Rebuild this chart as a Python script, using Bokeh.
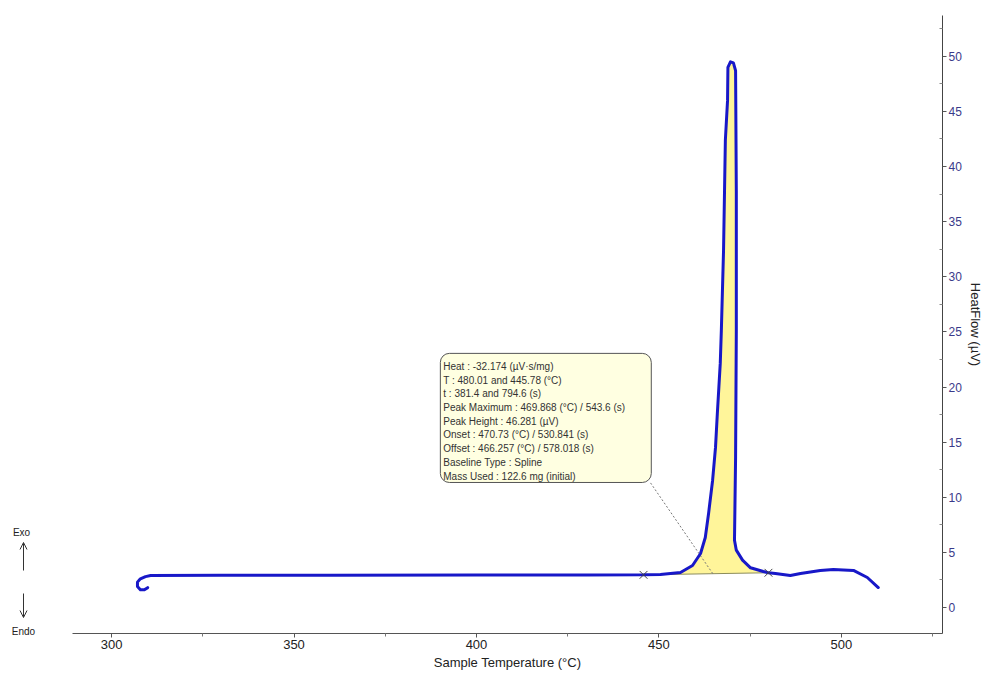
from bokeh.plotting import figure
from bokeh.layouts import row
from bokeh.models import Range1d, Arrow, OpenHead, FixedTicker
from bokeh.core.properties import value
from bokeh.embed import file_html
from bokeh.resources import INLINE

# ---- data ----
temp = [309.9, 309.0, 307.9, 307.1, 307.1, 307.9, 309.3, 310.7, 330.0, 360.0, 400.0, 430.0,
        445.78, 450.4, 455.9, 459.2, 461.4, 462.7, 463.6, 464.7, 465.5, 466.0, 466.8, 467.1,
        467.7, 468.2, 468.8, 468.9, 469.6, 470.4, 471.0, 471.2, 471.2, 471.0, 470.7, 471.2,
        472.9, 475.1, 478.6, 480.01, 481.9, 486.0, 488.8, 494.2, 497.8, 503.3, 507.1, 510.1]
heat = [1.8, 1.6, 1.6, 1.9, 2.3, 2.6, 2.8, 2.9, 2.92, 2.93, 2.94, 2.95,
        2.96, 3.0, 3.18, 3.81, 4.9, 6.35, 8.53, 11.52, 14.52, 17.6, 22.14, 25.14,
        32.4, 42.4, 46.0, 49.0, 49.5, 49.4, 48.7, 37.8, 25.1, 13.6, 6.1, 5.2,
        4.3, 3.6, 3.27, 3.15, 3.09, 2.9, 3.09, 3.36, 3.45, 3.36, 2.72, 1.81]

limit_temps = [445.78, 480.01]
limit_heat = [2.96, 3.15]

x_ticks = [300, 350, 400, 450, 500]
y_ticks = [0, 5, 10, 15, 20, 25, 30, 35, 40, 45, 50]

info_lines = [
    "Heat :  -32.174 (\u00b5V\u00b7s/mg)",
    "T : 480.01 and 445.78 (\u00b0C)",
    "t : 381.4 and 794.6 (s)",
    "Peak Maximum :  469.868 (\u00b0C) / 543.6 (s)",
    "Peak Height :  46.281 (\u00b5V)",
    "Onset :  470.73 (\u00b0C) / 530.841 (s)",
    "Offset :  466.257 (\u00b0C) / 578.018 (s)",
    "Baseline Type :  Spline",
    "Mass Used :  122.6 mg (initial)",
]

direction_labels = ["Exo", "Endo"]

FONT = "Liberation Sans"

# ---------- left strip with Exo / Endo indicator (page pixel coordinates) ----------
side = figure(width=72, height=673, output_backend="svg", toolbar_location=None,
              x_range=Range1d(0, 72), y_range=Range1d(673, 0),
              min_border=0, min_border_left=0, min_border_right=0,
              min_border_top=0, min_border_bottom=0)
side.frame_align = False
side.axis.visible = False
side.grid.visible = False
side.outline_line_color = None
side.text(x=[21, 23], y=[532, 631], text=direction_labels,
          text_font=value(FONT), text_font_size="10px", text_color="#222222",
          text_align="center", text_baseline="middle")
side.add_layout(Arrow(x_start=23, y_start=570, x_end=23, y_end=542,
                      end=OpenHead(size=7, line_color="#333333", line_width=1),
                      line_color="#333333", line_width=1))
side.add_layout(Arrow(x_start=23, y_start=593, x_end=23, y_end=617,
                      end=OpenHead(size=7, line_color="#333333", line_width=1),
                      line_color="#333333", line_width=1))

# ---------- main chart ----------
p = figure(width=913, height=673, output_backend="svg", toolbar_location=None,
           x_range=Range1d(289.3, 527.7), y_range=Range1d(-2.36, 53.7),
           y_axis_location="right",
           min_border_left=0, min_border_right=43, min_border_top=15, min_border_bottom=40)
p.frame_align = False
p.outline_line_color = None
p.grid.visible = False

xa = p.xaxis[0]
xa.ticker = FixedTicker(ticks=x_ticks, minor_ticks=[275, 325, 375, 425, 475, 525])
xa.axis_label = "Sample Temperature (\u00b0C)"
xa.axis_label_text_font = FONT
xa.axis_label_text_font_style = "normal"
xa.axis_label_text_font_size = "13px"
xa.axis_label_text_color = "#222222"
xa.axis_label_standoff = 3
xa.major_label_text_font = FONT
xa.major_label_text_font_size = "13px"
xa.major_label_text_color = "#222222"
xa.major_label_standoff = 2
xa.major_tick_out = 4
xa.major_tick_in = 0
xa.minor_tick_out = 3
xa.minor_tick_in = 0
xa.axis_line_color = "#555555"
xa.major_tick_line_color = "#555555"
xa.minor_tick_line_color = "#777777"

ya = p.yaxis[0]
ya.ticker = FixedTicker(ticks=y_ticks, minor_ticks=[v + 2.5 for v in y_ticks])
ya.axis_label = "HeatFlow (\u00b5V)"
ya.axis_label_text_font = FONT
ya.axis_label_text_font_style = "normal"
ya.axis_label_text_font_size = "13px"
ya.axis_label_text_color = "#222222"
ya.axis_label_standoff = 3
ya.major_label_text_font = FONT
ya.major_label_text_font_size = "12px"
ya.major_label_text_color = "#3a3a8a"
ya.major_label_standoff = 2
ya.major_tick_out = 4
ya.major_tick_in = 0
ya.minor_tick_out = 0
ya.minor_tick_in = 3
ya.axis_line_color = "#444444"
ya.major_tick_line_color = "#555555"
ya.minor_tick_line_color = "#888888"

# peak fill between the limit markers
i0 = temp.index(limit_temps[0])
i1 = temp.index(limit_temps[1])
p.patch(temp[i0:i1 + 1], heat[i0:i1 + 1], fill_color="#fff59a", line_color=None)
p.line(limit_temps, limit_heat, line_color="#8c8c5a", line_width=1)

# info box
box_l, box_r, box_t, box_b = 390.1, 447.9, 23.05, 11.34
p.quad(left=[box_l], right=[box_r], top=[box_t], bottom=[box_b],
       fill_color="#ffffe1", line_color="#555555", line_width=1, border_radius=9)
step = (box_t - box_b - 0.5) / len(info_lines)
ys = [box_t - 0.55 - step * (i + 0.5) for i in range(len(info_lines))]
p.text(x=[box_l + 0.8] * len(info_lines), y=ys, text=info_lines,
       text_font=value(FONT), text_font_size="10px", text_color="#333333",
       text_baseline="middle", text_align="left")

# leader line
p.line([447.7, 464.9], [11.3, 3.0], line_color="#777777", line_dash="2 2", line_width=1)

# curve
p.line(temp, heat, line_color="#1818c8", line_width=3, line_join="round", line_cap="round")

# limit markers
p.scatter(limit_temps, limit_heat, marker="x", size=11, line_color="#444444", line_width=1)

layout = row(side, p)
open("out.html", "w").write(file_html(layout, INLINE))
